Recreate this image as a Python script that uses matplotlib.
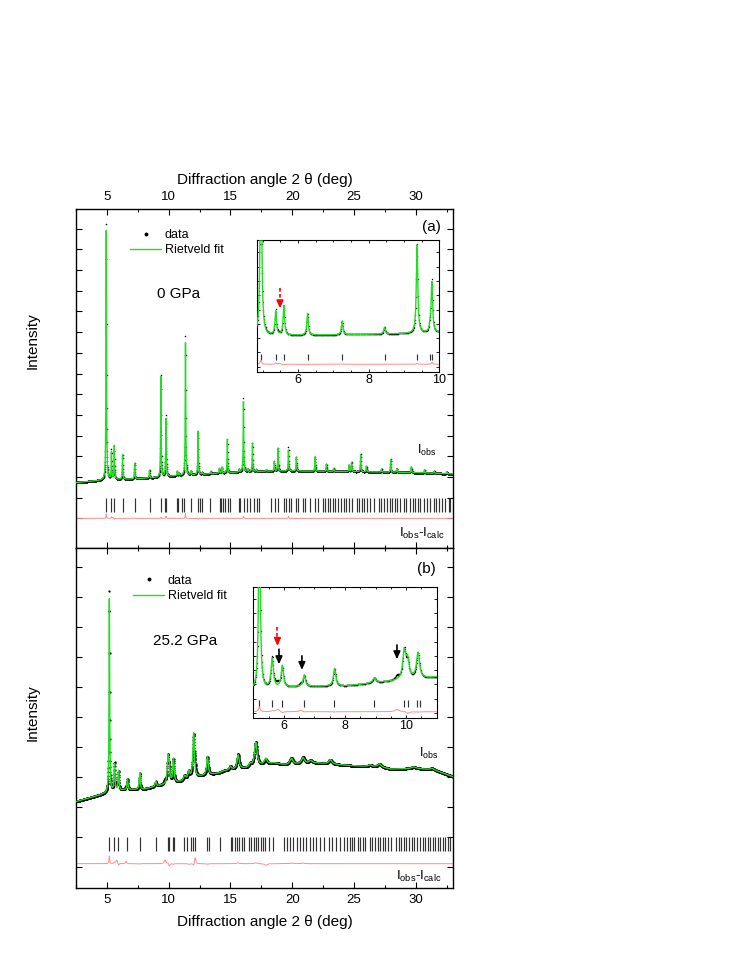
import numpy as np
import matplotlib.pyplot as plt
from matplotlib.lines import Line2D
from matplotlib.ticker import MultipleLocator

plt.rcParams['font.family'] = ['Liberation Sans', 'DejaVu Sans']
plt.rcParams['mathtext.fontset'] = 'custom'
plt.rcParams['mathtext.rm'] = 'Liberation Sans'

GREEN = '#22dd22'
DIFF = '#ff8c8c'

# ---------------------------------------------------------------------------
# 0 GPa pattern: background knots and peaks
# ---------------------------------------------------------------------------
bg0_x = [2.5, 5.0, 7.0, 9.0, 10.5, 12.0, 14.0, 16.0, 18.0, 20.0, 25.0, 30.0, 33.0]
bg0_y = [1.73, 1.86, 1.90, 1.97, 2.05, 2.10, 2.18, 2.24, 2.28, 2.29, 2.26, 2.21, 2.15]

pk0_pos = [4.95, 5.37, 5.47, 5.60, 6.27, 7.25, 8.45, 9.37, 9.74, 9.79, 10.70, 10.85,
           11.36, 11.80, 12.38, 12.72, 13.40, 14.10, 14.30, 14.75, 15.70, 16.05, 16.40,
           16.78, 17.10, 17.90, 18.55, 18.85, 19.69, 20.33, 21.85, 22.76, 23.35, 24.60,
           24.80, 25.53, 26.00, 27.22, 27.96, 28.45, 29.63, 30.70, 31.50, 32.50]
pk0_calc = [12.05, 1.30, 0.00, 1.63, 1.18, 0.76, 0.38, 4.85, 0.30, 2.75, 0.22, 0.12,
            6.40, 0.18, 2.10, 0.10, 0.12, 0.22, 0.28, 1.60, 0.14, 3.40, 0.13,
            1.38, 0.10, 0.08, 0.45, 1.10, 1.00, 0.68, 0.70, 0.35, 0.15, 0.32,
            0.45, 0.82, 0.28, 0.15, 0.62, 0.18, 0.28, 0.15, 0.10, 0.10]
pk0_obs = [12.35, 1.40, 0.08, 1.58, 1.16, 0.78, 0.38, 4.92, 0.30, 2.90, 0.22, 0.12,
           6.75, 0.18, 2.05, 0.10, 0.12, 0.22, 0.28, 1.62, 0.14, 3.55, 0.13,
           1.36, 0.10, 0.08, 0.47, 1.12, 1.15, 0.66, 0.70, 0.35, 0.15, 0.32,
           0.45, 0.84, 0.28, 0.15, 0.62, 0.18, 0.28, 0.15, 0.10, 0.10]
pk0_fwhm = 0.05

refl0 = [4.95, 5.37, 5.60, 6.27, 7.25, 8.45, 9.37, 9.74, 9.79, 10.66, 10.77, 11.06,
         11.25, 11.79, 12.41, 12.54, 12.73, 13.35, 14.14, 14.27, 14.40, 14.56, 14.76,
         14.94, 15.67, 15.80, 16.09, 16.37, 16.61, 16.88, 17.12, 17.31, 18.28, 18.58,
         18.82, 19.31, 19.53, 19.71, 19.90, 20.30, 20.47, 20.87, 21.06, 21.47, 21.87,
         22.06, 22.49, 22.68, 22.87, 23.08, 23.29, 23.49, 23.67, 23.94, 24.16, 24.38,
         24.62, 24.83, 25.23, 25.43, 25.64, 25.83, 26.04, 26.32, 26.58, 26.99, 27.17,
         27.39, 27.66, 27.88, 28.06, 28.34, 28.47, 28.74, 29.01, 29.23, 29.55, 29.76,
         29.96, 30.14, 30.36, 30.63, 30.89, 31.17, 31.44, 31.62, 31.84, 32.11, 32.38,
         32.65, 32.79]

# ---------------------------------------------------------------------------
# 25.2 GPa pattern
# ---------------------------------------------------------------------------
bg1_x = [2.5, 5.0, 6.5, 8.0, 9.5, 11.0, 12.5, 14.0, 14.5, 16.3, 18.5, 19.5, 22.0,
         24.0, 25.0, 27.0, 28.0, 30.0, 31.5, 33.0]
bg1_y = [2.17, 2.45, 2.56, 2.58, 2.72, 2.83, 3.00, 3.11, 3.19, 3.28, 3.45, 3.39, 3.45,
         3.39, 3.36, 3.33, 3.25, 3.28, 3.22, 3.00]

pk1_pos = [5.20, 5.62, 5.80, 5.95, 6.55, 6.67, 7.66, 8.96, 9.70, 9.94, 10.05, 10.39,
           11.30, 11.63, 12.02, 12.14, 13.14, 15.00, 15.62, 16.60, 17.05, 17.85, 19.93,
           20.87, 21.49, 23.08, 26.30, 27.07, 29.80, 31.30]
pk1_calc = [6.45, 0.90, 0.00, 0.67, 0.00, 0.35, 0.54, 0.16, 0.00, 0.85, 0.55, 0.80,
            0.15, 0.26, 1.50, 0.00, 0.62, 0.12, 0.47, 0.10, 0.79, 0.20, 0.20,
            0.20, 0.10, 0.15, 0.05, 0.10, 0.05, 0.05]
pk1_obs = [6.70, 0.94, 0.12, 0.60, 0.08, 0.33, 0.53, 0.16, 0.12, 0.88, 0.46, 0.78,
           0.15, 0.24, 1.42, 0.22, 0.60, 0.12, 0.50, 0.10, 0.82, 0.15, 0.22,
           0.22, 0.10, 0.15, 0.05, 0.10, 0.05, 0.05]
pk1_fwhm = [0.06, 0.09, 0.15, 0.09, 0.12, 0.09, 0.09, 0.12, 0.15, 0.12, 0.12, 0.12,
            0.20, 0.15, 0.15, 0.12, 0.15, 0.20, 0.20, 0.20, 0.25, 0.25, 0.30,
            0.30, 0.30, 0.30, 0.30, 0.30, 0.30, 0.30]

refl1 = [5.20, 5.60, 5.93, 6.65, 7.64, 8.96, 9.93, 10.05, 10.37, 10.45, 11.25, 11.52,
         11.79, 11.93, 12.11, 13.06, 13.27, 14.13, 15.02, 15.16, 15.37, 15.56, 15.69,
         15.91, 16.10, 16.50, 16.70, 16.91, 17.04, 17.26, 17.45, 17.67, 17.77, 18.10,
         18.45, 19.31, 19.58, 19.79, 20.06, 20.39, 20.61, 20.87, 21.14, 21.47, 21.68,
         21.95, 22.28, 22.54, 22.95, 23.21, 23.57, 23.89, 24.16, 24.42, 24.64, 24.83,
         25.02, 25.29, 25.51, 25.72, 25.91, 26.26, 26.45, 26.67, 26.91, 27.13, 27.34,
         27.53, 27.74, 27.99, 28.42, 28.61, 28.80, 29.01, 29.23, 29.47, 29.68, 29.88,
         30.09, 30.31, 30.55, 30.77, 30.95, 31.17, 31.38, 31.58, 31.76, 31.98, 32.20,
         32.39, 32.60, 32.79]

tth = np.arange(2.5, 33.001, 0.01)


def profile(bg_x, bg_y, pos, amp, fwhm):
    y = np.interp(tth, bg_x, bg_y)
    fwhm = np.broadcast_to(fwhm, len(pos))
    for p, a, w in zip(pos, amp, fwhm):
        y = y + a / (1 + ((tth - p) / (w / 2)) ** 2)
    return y


obs0 = profile(bg0_x, bg0_y, pk0_pos, pk0_obs, pk0_fwhm)
calc0 = profile(bg0_x, bg0_y, pk0_pos, pk0_calc, pk0_fwhm)
obs1 = profile(bg1_x, bg1_y, pk1_pos, pk1_obs, pk1_fwhm)
calc1 = profile(bg1_x, bg1_y, pk1_pos, pk1_calc, pk1_fwhm)


def draw(ax, obs, calc, refl, t_lo, t_hi, d_off, scale=1.0, shift=0.0, ms=1.2,
         d_scale=1.0):
    ax.plot(tth, scale * obs + shift, 'o', color='k', ms=ms, mew=0, zorder=2)
    ax.plot(tth, scale * calc + shift, '-', color=GREEN, lw=1.0, zorder=3)
    ax.vlines(refl, t_lo, t_hi, color='0.2', lw=0.85)
    ax.plot(tth, d_scale * scale * (obs - calc) + d_off, color=DIFF, lw=0.7)


def style_main(ax):
    ax.set_xlim(2.5, 33)
    ax.xaxis.set_major_locator(MultipleLocator(5))
    ax.xaxis.set_minor_locator(MultipleLocator(2.5))
    ax.tick_params(which='both', direction='in', top=True, right=True,
                   labelleft=False, labelsize=9.5, width=0.8, pad=4)
    ax.tick_params(which='major', length=4)
    ax.tick_params(which='minor', length=2.5)
    for s in ax.spines.values():
        s.set_linewidth(1.0)


def style_inset(ax, xlim, ylim):
    ax.set_xlim(*xlim)
    ax.set_ylim(*ylim)
    ax.xaxis.set_major_locator(MultipleLocator(2))
    ax.xaxis.set_minor_locator(MultipleLocator(0.5))
    ax.set_yticks(np.arange(0, 9))
    ax.tick_params(which='both', direction='in', top=True, right=True,
                   labelleft=False, labelsize=9, width=0.6, pad=2)
    ax.tick_params(which='major', length=2.5)
    ax.tick_params(which='minor', length=1.5)
    for s in ax.spines.values():
        s.set_linewidth(0.8)


ARROW = '-|>,head_width=0.2,head_length=0.45'


def arrow(ax, x, y_from, y_to, color, dashed=False):
    if dashed:
        ax.plot([x, x], [y_from, y_to + 0.3], color=color, lw=1.2,
                dashes=(2.2, 1.4))
        ax.annotate('', xy=(x, y_to), xytext=(x, y_to + 0.45),
                    arrowprops=dict(arrowstyle=ARROW, color=color, lw=1.2,
                                    shrinkA=0, shrinkB=0))
    else:
        ax.annotate('', xy=(x, y_to), xytext=(x, y_from),
                    arrowprops=dict(arrowstyle=ARROW, color=color, lw=1.2,
                                    shrinkA=0, shrinkB=0))


fig = plt.figure(figsize=(7.47, 9.67), dpi=100)
ax0 = fig.add_axes([0.1017, 0.4333, 0.5047, 0.3506])
ax1 = fig.add_axes([0.1017, 0.0817, 0.5047, 0.3516])

legend_handles = [Line2D([], [], ls='none', marker='o', ms=1.8, color='k'),
                  Line2D([], [], color=GREEN, lw=1.0)]

# (a) 0 GPa
draw(ax0, obs0, calc0, refl0, 0.30, 0.97, 0.0, ms=1.1, d_scale=0.7)
style_main(ax0)
ax0.set_ylim(-1.43, 14.95)
ax0.set_yticks(np.arange(0, 15))
ax0.tick_params(labeltop=True, labelbottom=False)
ax0.xaxis.set_label_position('top')
ax0.set_xlabel('Diffraction angle 2 θ (deg)', fontsize=11, labelpad=5)
ax0.legend(legend_handles, ['data', 'Rietveld fit'], loc='upper left',
           bbox_to_anchor=(0.143, 0.94), frameon=False, fontsize=9,
           borderpad=0, borderaxespad=0, handlelength=2.5, handletextpad=0.3,
           labelspacing=0.25)
ax0.text(0.215, 0.749, '0 GPa', transform=ax0.transAxes, fontsize=11, va='center')
ax0.text(0.968, 0.947, '(a)', transform=ax0.transAxes, fontsize=11,
         ha='right', va='center')
ax0.text(0.904, 0.289, r'I$_\mathregular{obs}$', transform=ax0.transAxes,
         fontsize=9, va='center')
ax0.text(0.856, 0.044, r'I$_\mathregular{obs}$-I$_\mathregular{calc}$',
         transform=ax0.transAxes, fontsize=9.5, va='center')

# (b) 25.2 GPa
draw(ax1, obs1, calc1, refl1, 0.52, 0.98, 0.1, ms=1.6)
style_main(ax1)
ax1.set_ylim(-0.71, 10.62)
ax1.set_yticks(np.arange(0, 11))
ax1.set_xlabel('Diffraction angle 2 θ (deg)', fontsize=11, labelpad=7)
ax1.legend(legend_handles, ['data', 'Rietveld fit'], loc='upper left',
           bbox_to_anchor=(0.151, 0.921), frameon=False, fontsize=9,
           borderpad=0, borderaxespad=0, handlelength=2.5, handletextpad=0.3,
           labelspacing=0.25)
ax1.text(0.205, 0.727, '25.2 GPa', transform=ax1.transAxes, fontsize=11, va='center')
ax1.text(0.955, 0.938, '(b)', transform=ax1.transAxes, fontsize=11,
         ha='right', va='center')
ax1.text(0.91, 0.397, r'I$_\mathregular{obs}$', transform=ax1.transAxes,
         fontsize=9, va='center')
ax1.text(0.849, 0.035, r'I$_\mathregular{obs}$-I$_\mathregular{calc}$',
         transform=ax1.transAxes, fontsize=9.5, va='center')

fig.text(0.044, 0.648, 'Intensity', rotation=90, fontsize=11, ha='center', va='center')
fig.text(0.044, 0.263, 'Intensity', rotation=90, fontsize=11, ha='center', va='center')

# insets: same patterns, magnified
in0 = fig.add_axes([0.3436, 0.6156, 0.2445, 0.1362])
draw(in0, obs0, calc0, [r for r in refl0 if r < 10.2], 0.47, 0.89, 0.17,
     scale=1.27, shift=2.22 - 1.27 * 1.9, ms=1.0, d_scale=0.7)
style_inset(in0, (4.83, 10.0), (-0.35, 8.86))
arrow(in0, 5.49, 5.48, 4.08, 'red', dashed=True)

in1 = fig.add_axes([0.3391, 0.2578, 0.2455, 0.1355])
draw(in1, obs1, calc1, [r for r in refl1 if r < 11.2], 0.42, 0.90, 0.07,
     scale=2.3, shift=1.83 - 2.3 * 2.56, ms=1.0, d_scale=0.6)
style_inset(in1, (5.0, 11.0), (-0.35, 8.87))
arrow(in1, 5.79, 6.06, 4.70, 'red', dashed=True)
arrow(in1, 5.84, 4.47, 3.41, 'k')
arrow(in1, 6.59, 4.00, 3.01, 'k')
arrow(in1, 9.70, 4.77, 3.76, 'k')

fig.savefig('out.png', dpi=100)
